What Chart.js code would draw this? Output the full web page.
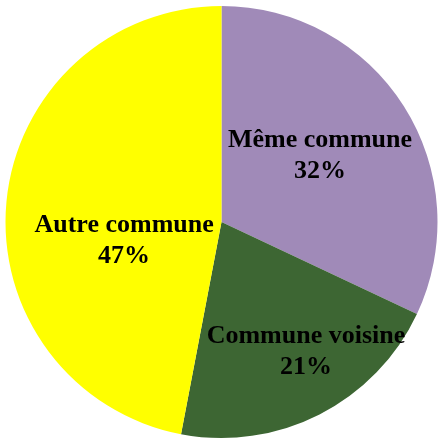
<!DOCTYPE html>
<html>
<head>
<meta charset="utf-8">
<script src="https://cdn.jsdelivr.net/npm/chart.js@4"></script>
<style>
  html, body { margin: 0; padding: 0; background: #fff; }
  #wrap { width: 443px; height: 439px; }
</style>
</head>
<body>
<div id="wrap"><canvas id="pie"></canvas></div>
<script>
const labels = ['Même commune', 'Commune voisine', 'Autre commune'];
const shares = [32, 21, 47];
const colors = ['#A08AB8', '#3D6633', '#FFFF00'];

// label anchor for each slice, as (x, y) fractions of the radius from the centre
const labelAnchor = [[0.456, -0.306], [0.391, 0.602], [-0.451, 0.088]];

const sliceLabels = {
    id: 'sliceLabels',
    afterDatasetsDraw(chart) {
        const ctx = chart.ctx;
        const meta = chart.getDatasetMeta(0);
        ctx.save();
        ctx.font = 'bold 26px "Liberation Serif", "Times New Roman", serif';
        ctx.fillStyle = '#000';
        ctx.textAlign = 'center';
        ctx.textBaseline = 'middle';
        meta.data.forEach((arc, i) => {
            const x = arc.x + labelAnchor[i][0] * arc.outerRadius;
            const y = arc.y + labelAnchor[i][1] * arc.outerRadius;
            ctx.fillText(labels[i], x, y - 15.5);
            ctx.fillText(shares[i] + '%', x, y + 15.5);
        });
        ctx.restore();
    }
};

new Chart(document.getElementById('pie'), {
    type: 'pie',
    data: {
        labels: labels,
        datasets: [{
            data: shares,
            backgroundColor: colors,
            borderWidth: 0
        }]
    },
    options: {
        responsive: true,
        maintainAspectRatio: false,
        animation: false,
        layout: { padding: { top: 6, bottom: 1, left: 0, right: 0 } },
        plugins: {
            legend: { display: false },
            tooltip: { enabled: false }
        }
    },
    plugins: [sliceLabels]
});
</script>
</body>
</html>
